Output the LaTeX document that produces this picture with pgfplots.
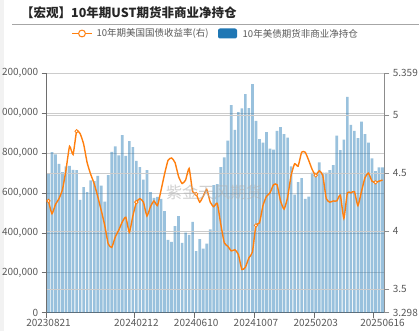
\documentclass[border=0pt]{standalone}
\usepackage{fontspec}
\setmainfont{Noto Sans CJK SC}
\usepackage{pgfplots}
\usepackage{pgfplotstable}
\pgfplotsset{compat=1.18}
\definecolor{barblue}{HTML}{1F77B4}
\definecolor{lineorange}{HTML}{FF7F0E}
\definecolor{txtgray}{HTML}{595959}
\definecolor{axgray}{HTML}{6E6E6E}
\definecolor{gridgray}{HTML}{CCCCCC}

\pgfplotstableread{
x pos yld
0 700000 4.26
1 805000 4.15
2 793000 4.23
3 746000 4.28
4 704000 4.36
5 734000 4.53
6 736000 4.73
7 716000 4.66
8 715000 4.86
9 566000 4.84
10 630000 4.75
11 605000 4.59
12 663000 4.49
13 660000 4.41
14 686000 4.30
15 637000 4.18
16 557000 4.05
17 689000 3.89
18 806000 3.86
19 834000 3.95
20 788000 4.01
21 890000 4.08
22 786000 4.12
23 860000 3.99
24 830000 4.13
25 761000 4.25
26 730000 4.28
27 667000 4.25
28 715000 4.13
29 605000 4.21
30 576000 4.26
31 580000 4.22
32 570000 4.35
33 509000 4.49
34 365000 4.61
35 355000 4.63
36 434000 4.59
37 484000 4.47
38 350000 4.41
39 401000 4.44
40 390000 4.54
41 455000 4.34
42 309000 4.32
43 369000 4.25
44 321000 4.30
45 346000 4.36
46 418000 4.25
47 640000 4.21
48 645000 4.24
49 730000 4.06
50 778000 3.90
51 862000 3.87
52 1041000 3.83
53 916000 3.84
54 1005000 3.80
55 1024000 3.67
56 1095000 3.69
57 1026000 3.77
58 1146000 3.82
59 961000 4.05
60 870000 4.07
61 852000 4.22
62 905000 4.30
63 823000 4.33
64 818000 4.40
65 912000 4.40
66 930000 4.26
67 895000 4.19
68 877000 4.29
69 733000 4.48
70 592000 4.58
71 654000 4.56
72 675000 4.68
73 570000 4.68
74 582000 4.61
75 702000 4.53
76 702000 4.48
77 753000 4.52
78 702000 4.48
79 702000 4.28
80 715000 4.25
81 740000 4.26
82 887000 4.26
83 815000 4.31
84 868000 4.11
85 1082000 4.33
86 942000 4.33
87 912000 4.34
88 875000 4.22
89 958000 4.34
90 895000 4.46
91 853000 4.50
92 773000 4.43
93 710000 4.42
94 728000 4.43
95 728000 4.44
}\data

\pgfplotstableread{
x yld
0 4.26
8 4.86
25 4.25
42 4.32
59 4.05
76 4.48
93 4.42
}\marks

\begin{document}
\begin{tikzpicture}
\useasboundingbox (0pt,0pt) rectangle (419pt,331pt);
\fill[white] (0pt,0pt) rectangle (419pt,331pt);
\fill[black!5] (0pt,0pt) rectangle (4pt,331pt);
\node[anchor=west, inner sep=0pt, font=\fontsize{12.5}{14}\selectfont\bfseries, text=black!85] at (21pt,318pt) {【宏观】10年期UST期货非商业净持仓};
\draw[black!35, line width=0.8pt] (12pt,306.5pt) -- (419pt,306.5pt);
% legend
\draw[lineorange, line width=1.2pt] (72pt,297.5pt) -- (92pt,297.5pt);
\draw[lineorange, line width=1pt, fill=white] (82pt,297.5pt) circle (3.4pt);
\node[anchor=west, inner sep=0pt, font=\fontsize{9.5}{11}\selectfont, text=txtgray] at (96.5pt,297.5pt) {10年期美国国债收益率(右)};
\fill[barblue, rounded corners=2pt] (218pt,292.5pt) rectangle (237pt,302.5pt);
\node[anchor=west, inner sep=0pt, font=\fontsize{9.5}{11}\selectfont, text=txtgray] at (242.5pt,297.5pt) {10年美债期货非商业净持仓};

\begin{axis}[
  at={(46.7pt,18.3pt)}, anchor=south west, scale only axis,
  width=337.6pt, height=239.4pt,
  xmin=-0.5, xmax=95.5, ymin=0, ymax=1200000,
  axis x line*=bottom, axis y line*=left,
  axis line style={axgray, line width=0.8pt, -},
  ybar, bar width=0.76,
  xtick={-0.5,24.5,41.5,58.5,75.5,92.5}, xticklabels={},
  extra x ticks={0,25,42,59,76,95},
  extra x tick labels={20230821,20240212,20240610,20241007,20250203,20250616},
  extra x tick style={major tick length=0pt},
  ytick={0,200000,400000,600000,800000,1000000,1200000},
  yticklabels={0,{200,000},{400,000},{600,000},{800,000},{000,000},{200,000}},
  ymajorgrids, grid style={gridgray, line width=0.7pt},
  tick align=outside, major tick length=5pt,
  tick style={axgray, line width=0.7pt},
  tick label style={font=\fontsize{10}{12}\selectfont, text=txtgray, inner ysep=0pt},
  xticklabel style={yshift=-6pt},
  /pgf/number format/assume math mode=true,
  scaled y ticks=false,
]
\addplot[fill=barblue, fill opacity=0.45, draw=none] table[x=x, y=pos] {\data};
\end{axis}

\begin{axis}[
  at={(46.7pt,18.3pt)}, anchor=south west, scale only axis,
  width=337.6pt, height=239.4pt,
  xmin=-0.5, xmax=95.5, ymin=3.298, ymax=5.359,
  axis x line=none, axis y line*=right,
  axis line style={black!45, line width=1pt, -},
  ytick={3.5,4,4.5,5}, yticklabels={3.5,4,4.5,5},
  extra y ticks={3.298,5.359}, extra y tick labels={3.298,5.359},
  extra y tick style={grid=none},
  ymajorgrids, grid style={gridgray, line width=0.7pt},
  tick align=outside, major tick length=5pt,
  tick style={black!45, line width=0.7pt},
  tick label style={font=\fontsize{10}{12}\selectfont, text=txtgray, inner ysep=0pt},
  /pgf/number format/assume math mode=true,
]
\addplot[lineorange, line width=1.4pt, smooth, tension=0.3, no marks] table[x=x, y=yld] {\data};
\addplot[only marks, mark=*, mark size=1.7pt, mark options={fill=white, draw=lineorange, line width=0.8pt}] table[x=x, y=yld] {\marks};
\end{axis}
\node[text=black!30, opacity=0.6, font=\fontsize{16}{18}\selectfont] at (214pt,139pt) {紫金天风期货};
\end{tikzpicture}
\end{document}
